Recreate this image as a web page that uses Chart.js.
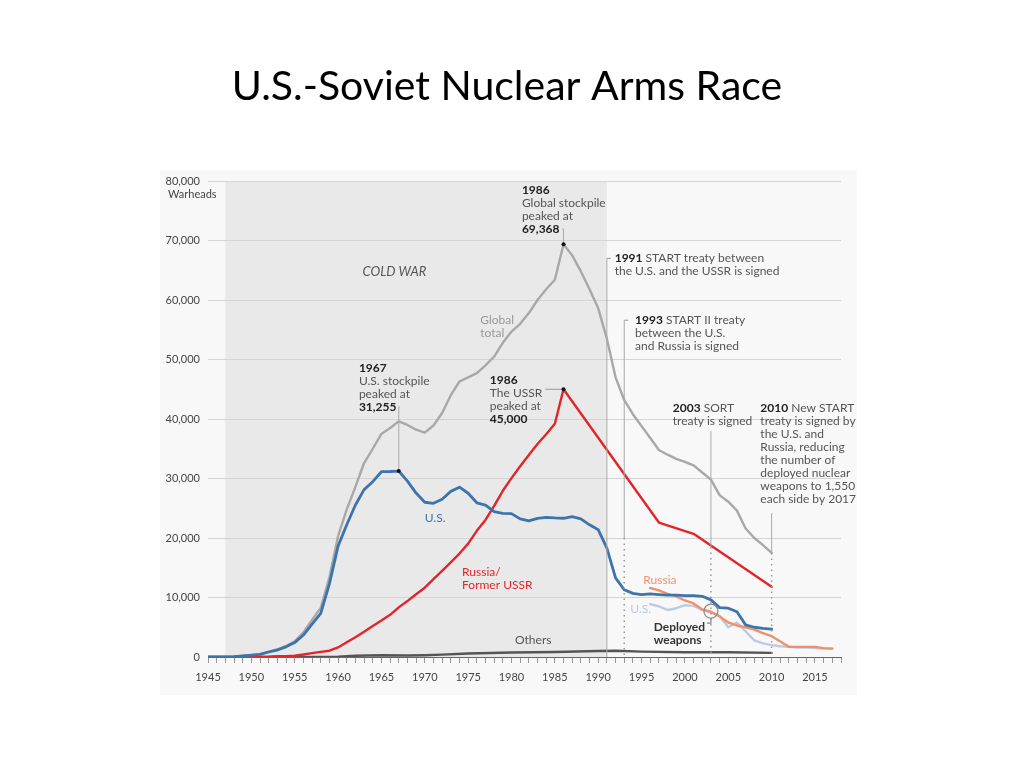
<!DOCTYPE html>
<html>
<head>
<meta charset="utf-8">
<title>U.S.-Soviet Nuclear Arms Race</title>
<script src="https://cdn.jsdelivr.net/npm/chart.js@4.4.1/dist/chart.umd.min.js"></script>
<style>
  html, body { margin: 0; background: #fff; }
  #wrap { width: 1020px; height: 765px; }
</style>
</head>
<body>
<div id="wrap"><canvas id="chart" width="1020" height="765"></canvas></div>
<script>
const FONT = 'Lato, "Open Sans", sans-serif';

const xLabelYears = [1945, 1950, 1955, 1960, 1965, 1970, 1975, 1980, 1985, 1990, 1995, 2000, 2005, 2010, 2015];
const yTicks = [0, 10000, 20000, 30000, 40000, 50000, 60000, 70000, 80000];

const usYears = [1945, 1946, 1947, 1948, 1949, 1950, 1951, 1952, 1953, 1954, 1955, 1956, 1957, 1958, 1959,
  1960, 1961, 1962, 1963, 1964, 1965, 1966, 1967, 1968, 1969, 1970, 1971, 1972, 1973, 1974, 1975, 1976,
  1977, 1978, 1979, 1980, 1981, 1982, 1983, 1984, 1985, 1986, 1987, 1988, 1989, 1990, 1991, 1992, 1993,
  1994, 1995, 1996, 1997, 1998, 1999, 2000, 2001, 2002, 2003, 2004, 2005, 2006, 2007, 2008, 2009, 2010];
const usValues = [2, 9, 13, 50, 170, 299, 438, 841, 1169, 1703, 2422, 3692, 5543, 7345, 12298,
  18638, 22229, 25540, 28133, 29463, 31139, 31175, 31255, 29561, 27552, 26008, 25830, 26516, 27835, 28537, 27519, 25914,
  25542, 24418, 24138, 24104, 23208, 22886, 23305, 23459, 23368, 23317, 23575, 23205, 22217, 21392, 18300, 13300, 11300,
  10700, 10500, 10600, 10500, 10400, 10400, 10300, 10300, 10200, 9600, 8300, 8200, 7600, 5400, 5000, 4800, 4700];

const ussrYears = [1949, 1950, 1951, 1952, 1953, 1954, 1955, 1956, 1957, 1958, 1959, 1960, 1961, 1962, 1963,
  1964, 1965, 1966, 1967, 1968, 1969, 1970, 1971, 1972, 1973, 1974, 1975, 1976, 1977, 1978, 1979, 1980,
  1981, 1982, 1983, 1984, 1985, 1986, 1997, 2001, 2010];
const ussrValues = [1, 5, 25, 50, 120, 150, 200, 426, 660, 869, 1060, 1605, 2471, 3322, 4238,
  5221, 6129, 7089, 8339, 9399, 10538, 11643, 13092, 14478, 15915, 17385, 19055, 21205, 23044, 25393, 27935, 30062,
  32049, 33952, 35804, 37431, 39197, 45000, 22600, 20700, 11800];

const globalYears = usYears;
const globalValues = [2, 9, 13, 50, 170, 305, 465, 900, 1300, 1860, 2640, 4130, 6240, 8260, 13400,
  20300, 24800, 28600, 32600, 35000, 37500, 38500, 39600, 39000, 38200, 37700, 38900, 41000, 44000, 46300, 47000, 47700,
  49000, 50500, 52800, 54700, 56000, 57800, 60000, 61800, 63400, 69368, 67500, 64800, 61800, 58600, 53500, 47000, 43200,
  40800, 38800, 36800, 34800, 34000, 33300, 32800, 32200, 31000, 29800, 27200, 26100, 24600, 21600, 20000, 18800, 17500];

const othersYears = [1945, 1952, 1955, 1960, 1962, 1965, 1968, 1970, 1972, 1975, 1980, 1985, 1990, 1992, 1995, 2000, 2005, 2010];
const othersValues = [0, 0, 0, 50, 200, 300, 250, 300, 400, 600, 750, 850, 1000, 1050, 900, 800, 800, 700];

const deployedYears = [1996, 1997, 1998, 1999, 2000, 2001, 2002, 2003, 2004, 2005, 2006, 2007, 2008, 2009, 2010,
  2011, 2012, 2013, 2014, 2015, 2016, 2017];
const russiaDeployed = [11600, 11200, 10600, 10200, 9500, 9000, 8000, 7600, 6800, 5800, 5300, 5000, 4600, 4000, 3500,
  2600, 1700, 1700, 1700, 1700, 1500, 1400];
const usDeployed = [8900, 8500, 7900, 8200, 8700, 8600, 7900, 7500, 6900, 5000, 5800, 4300, 2800, 2300, 2000,
  1800, 1700, 1600, 1600, 1500, 1400, 1400];

const coldWar = [1947, 1991];
const peaks = [[1967, 31255], [1986, 69368], [1986, 45000]];

function pts(xs, ys) {
  return xs.map((x, i) => ({ x: x, y: ys[i] }));
}

function lineSet(label, data, color, width) {
  return {
    label: label,
    data: data,
    borderColor: color,
    backgroundColor: color,
    borderWidth: width,
    pointRadius: 0,
    tension: 0,
    borderJoinStyle: 'round',
    borderCapStyle: 'round'
  };
}

function fmt(v) {
  return v.toLocaleString('en-US');
}

// draws one line made of [text, bold] parts, left aligned
function rich(ctx, parts, x, y, size, color) {
  let cx = x;
  for (const [s, bold] of parts) {
    ctx.font = (bold ? 'bold ' : '') + size + 'px ' + FONT;
    ctx.fillStyle = bold ? '#222' : color;
    ctx.fillText(s, cx, y);
    cx += ctx.measureText(s).width;
  }
  return cx;
}

function block(ctx, lines, x, y, size, color, lh) {
  let ends = [];
  lines.forEach((parts, i) => {
    ends.push(rich(ctx, parts, x, y + i * lh, size, color));
  });
  return ends;
}

function vline(ctx, x, y1, y2, dotted) {
  ctx.save();
  ctx.beginPath();
  if (dotted) {
    ctx.setLineDash([1.5, 4]);
    ctx.lineWidth = 1.5;
    ctx.strokeStyle = '#999';
  } else {
    ctx.lineWidth = 1;
    ctx.strokeStyle = '#aaa';
  }
  ctx.moveTo(x, y1);
  ctx.lineTo(x, y2);
  ctx.stroke();
  ctx.restore();
}

function hline(ctx, x1, x2, y) {
  ctx.save();
  ctx.beginPath();
  ctx.lineWidth = 1;
  ctx.strokeStyle = '#999';
  ctx.moveTo(x1, y);
  ctx.lineTo(x2, y);
  ctx.stroke();
  ctx.restore();
}

const backdropPlugin = {
  id: 'backdrop',
  beforeDraw: chart => {
    const ctx = chart.ctx;
    const { top, bottom } = chart.chartArea;
    const x = chart.scales.x;
    ctx.save();
    ctx.fillStyle = '#f8f8f8';
    ctx.fillRect(160, 170, 697, 525);
    ctx.fillStyle = '#e9e9e9';
    const x1 = x.getPixelForValue(coldWar[0]);
    const x2 = x.getPixelForValue(coldWar[1]);
    ctx.fillRect(x1, top, x2 - x1, bottom - top);
    ctx.restore();

    ctx.save();
    ctx.fillStyle = '#000';
    ctx.font = '41px Lato, "Open Sans", sans-serif';
    ctx.textAlign = 'center';
    ctx.textBaseline = 'middle';
    ctx.fillText('U.S.-Soviet Nuclear Arms Race', 507, 87);
    ctx.restore();
  }
};

const notesPlugin = {
  id: 'notes',
  afterDraw: chart => {
    const ctx = chart.ctx;
    const sx = chart.scales.x, sy = chart.scales.y;
    const px = v => sx.getPixelForValue(v);
    const py = v => sy.getPixelForValue(v);
    const lh = 13;
    ctx.save();
    ctx.textBaseline = 'middle';
    ctx.textAlign = 'left';

    // Warheads under the top tick
    ctx.font = '11px ' + FONT;
    ctx.fillStyle = '#444';
    ctx.fillText('Warheads', px(1945) - 40, py(80000) + 13);

    // COLD WAR
    ctx.font = 'italic 13px ' + FONT;
    ctx.fillStyle = '#555';
    ctx.textAlign = 'center';
    ctx.fillText('COLD WAR', px(1966.5), py(64700));
    ctx.textAlign = 'left';

    // series labels
    ctx.font = '12px ' + FONT;
    ctx.fillStyle = '#999';
    ctx.fillText('Global', px(1976.4), py(56600));
    ctx.fillText('total', px(1976.4), py(56600) + lh);
    ctx.fillStyle = '#3d74ab';
    ctx.fillText('U.S.', px(1970), py(23300));
    ctx.fillStyle = '#e0262b';
    ctx.fillText('Russia/', px(1974.3), py(14300));
    ctx.fillText('Former USSR', px(1974.3), py(14300) + lh);
    ctx.fillStyle = '#555';
    ctx.fillText('Others', px(1980.4), py(2900));
    ctx.fillStyle = '#f0916b';
    ctx.fillText('Russia', px(1995.2), py(12900));
    ctx.fillStyle = '#b9c7df';
    ctx.fillText('U.S.', px(1993.7), py(8100));
    ctx.font = 'bold 12px ' + FONT;
    ctx.fillStyle = '#333';
    ctx.fillText('Deployed', px(1996.4), py(5000));
    ctx.fillText('weapons', px(1996.4), py(5000) + lh);

    // 1967 U.S. peak
    let y0 = py(48600);
    let ends = block(ctx, [[['1967', true]], [['U.S. stockpile', false]], [['peaked at', false]], [['31,255', true]]],
      px(1962.4), y0, 12, '#555', lh);
    hline(ctx, ends[3] + 3, px(1967), y0 + 3 * lh);
    vline(ctx, px(1967), y0 + 3 * lh, py(31255), false);

    // 1986 global peak
    y0 = py(78500);
    ends = block(ctx, [[['1986', true]], [['Global stockpile', false]], [['peaked at', false]], [['69,368', true]]],
      px(1981.2), y0, 12, '#555', lh);
    hline(ctx, ends[3] + 3, px(1986), y0 + 3 * lh);
    vline(ctx, px(1986), y0 + 3 * lh, py(69368), false);

    // 1986 USSR peak
    y0 = py(46550);
    ends = block(ctx, [[['1986', true]], [['The USSR', false]], [['peaked at', false]], [['45,000', true]]],
      px(1977.5), y0, 12, '#555', lh);
    hline(ctx, ends[1] + 3, px(1986), py(45000));

    // treaties
    y0 = py(67000);
    block(ctx, [[['1991', true], [' START treaty between', false]], [['the U.S. and the USSR is signed', false]]],
      px(1991.9), y0, 12, '#555', lh);
    hline(ctx, px(1991), px(1991) + 4, y0);
    vline(ctx, px(1991), y0, py(0), false);

    y0 = py(56600);
    block(ctx, [[['1993', true], [' START II treaty', false]], [['between the U.S.', false]], [['and Russia is signed', false]]],
      px(1994.25), y0, 12, '#555', lh);
    hline(ctx, px(1993), px(1993) + 4, y0);
    vline(ctx, px(1993), y0, py(20000), false);
    vline(ctx, px(1993), py(20000), py(0), true);

    y0 = py(41850);
    block(ctx, [[['2003', true], [' SORT', false]], [['treaty is signed', false]]],
      px(1998.6), y0, 12, '#555', lh);
    vline(ctx, px(2003), y0 + lh + 10, py(18500), false);
    vline(ctx, px(2003), py(18500), py(0), true);

    y0 = py(41850);
    block(ctx, [[['2010', true], [' New START', false]], [['treaty is signed by', false]], [['the U.S. and', false]],
      [['Russia, reducing', false]], [['the number of', false]], [['deployed nuclear', false]],
      [['weapons to 1,550', false]], [['each side by 2017', false]]],
      px(2008.7), y0, 12, '#555', lh);
    vline(ctx, px(2010), y0 + 7 * lh + 14, py(17500), false);
    vline(ctx, px(2010), py(17500), py(0), true);

    // circle on deployed weapons at 2003
    const cx = px(2003), cy = py(7700);
    ctx.beginPath();
    ctx.arc(cx, cy, 7, 0, Math.PI * 2);
    ctx.strokeStyle = '#888';
    ctx.lineWidth = 1.2;
    ctx.stroke();
    ctx.beginPath();
    ctx.moveTo(cx, cy + 7);
    ctx.lineTo(cx, cy + 12);
    ctx.lineTo(cx - 4, cy + 12);
    ctx.stroke();

    // peak dots
    ctx.fillStyle = '#111';
    for (const [yr, v] of peaks) {
      ctx.beginPath();
      ctx.arc(px(yr), py(v), 2, 0, Math.PI * 2);
      ctx.fill();
    }
    ctx.restore();
  }
};

new Chart(document.getElementById('chart'), {
  type: 'line',
  data: {
    datasets: [
      lineSet('U.S.', pts(usYears, usValues), '#3d74ab', 2.8),
      lineSet('Russia/Former USSR', pts(ussrYears, ussrValues), '#e0262b', 2.4),
      lineSet('Russia deployed', pts(deployedYears, russiaDeployed), '#f0916b', 2.4),
      lineSet('U.S. deployed', pts(deployedYears, usDeployed), '#bccae2', 2.4),
      lineSet('Others', pts(othersYears, othersValues), '#555555', 2.4),
      lineSet('Global total', pts(globalYears, globalValues), '#a8a8a8', 2.4)
    ]
  },
  options: {
    responsive: false,
    animation: false,
    layout: { padding: { left: 140, top: 181, right: 179, bottom: 0 } },
    scales: {
      x: {
        type: 'linear',
        min: 1945,
        max: 2018,
        afterFit: s => { s.height = 108; },
        afterBuildTicks: axis => {
          const t = [];
          for (let y = 1945; y <= 2018; y++) t.push({ value: y });
          axis.ticks = t;
        },
        ticks: {
          autoSkip: false,
          maxRotation: 0,
          padding: 8,
          color: '#444',
          font: { size: 11, family: FONT },
          callback: v => xLabelYears.includes(v) ? String(v) : ''
        },
        grid: { drawOnChartArea: false, drawTicks: true, tickLength: 6, color: '#999' },
        border: { display: true, color: '#666', width: 1 }
      },
      y: {
        min: 0,
        max: 80000,
        afterFit: s => { s.width = 68; },
        afterBuildTicks: axis => { axis.ticks = yTicks.map(v => ({ value: v })); },
        ticks: {
          padding: 8,
          color: '#444',
          font: { size: 11, family: FONT },
          callback: v => fmt(v)
        },
        grid: { color: '#d4d4d4', drawTicks: false },
        border: { display: false }
      }
    },
    plugins: {
      legend: { display: false },
      tooltip: { enabled: false },
      title: { display: false }
    }
  },
  plugins: [backdropPlugin, notesPlugin]
});
</script>
</body>
</html>
